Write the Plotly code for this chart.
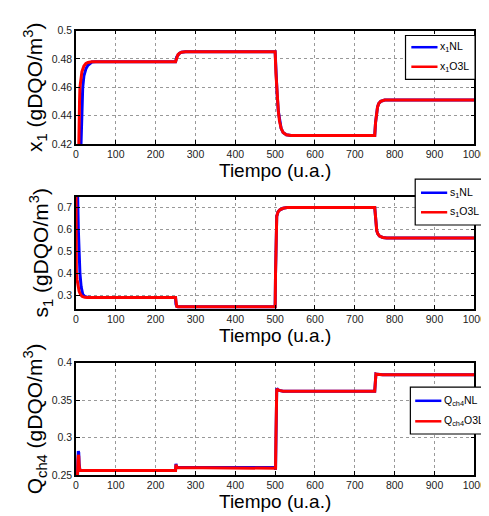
import plotly.graph_objects as go

# ---------------- data ----------------
x1_nl_t = [0, 10, 13, 15, 17, 20, 25, 30, 35, 40, 50, 250, 253, 256, 260, 265, 275, 500, 502, 505, 508, 511, 515, 520, 528, 540, 750, 752, 754, 757, 760, 765, 775, 1000]
x1_nl_v = [0.30, 0.40, 0.43, 0.45, 0.46, 0.468, 0.473, 0.4755, 0.477, 0.4778, 0.478, 0.478, 0.4815, 0.483, 0.484, 0.4848, 0.485, 0.485, 0.47, 0.455, 0.443, 0.436, 0.431, 0.428, 0.4265, 0.426, 0.426, 0.435, 0.442, 0.446, 0.4485, 0.450, 0.451, 0.451]
x1_o3l_t = [0, 5, 7, 9, 10, 12, 15, 20, 25, 30, 40, 250, 253, 256, 260, 265, 275, 500, 502, 505, 508, 511, 515, 520, 528, 540, 750, 752, 754, 757, 760, 765, 775, 1000]
x1_o3l_v = [0.30, 0.40, 0.43, 0.45, 0.46, 0.466, 0.471, 0.475, 0.4768, 0.4775, 0.478, 0.478, 0.4815, 0.483, 0.484, 0.4848, 0.485, 0.485, 0.47, 0.455, 0.443, 0.436, 0.431, 0.428, 0.4265, 0.426, 0.426, 0.435, 0.442, 0.446, 0.4485, 0.450, 0.451, 0.451]

s1_nl_t = [0, 4, 6, 8, 10, 13, 17, 22, 30, 40, 250, 251, 253, 256, 500, 501, 502, 504, 507, 512, 520, 530, 750, 751, 753, 755, 758, 762, 770, 780, 1000]
s1_nl_v = [0.90, 0.78, 0.60, 0.47, 0.40, 0.34, 0.305, 0.295, 0.291, 0.29, 0.29, 0.26, 0.25, 0.248, 0.248, 0.40, 0.60, 0.66, 0.68, 0.69, 0.697, 0.70, 0.70, 0.68, 0.62, 0.595, 0.58, 0.57, 0.564, 0.562, 0.562]
s1_o3l_t = [0, 0.3, 1, 3, 5, 8, 12, 16, 22, 30, 250, 251, 253, 256, 500, 501, 502, 504, 507, 512, 520, 530, 750, 751, 753, 755, 758, 762, 770, 780, 1000]
s1_o3l_v = [0.90, 0.45, 0.40, 0.37, 0.345, 0.318, 0.302, 0.295, 0.291, 0.29, 0.29, 0.26, 0.25, 0.248, 0.248, 0.40, 0.60, 0.66, 0.68, 0.69, 0.697, 0.70, 0.70, 0.68, 0.62, 0.595, 0.58, 0.57, 0.564, 0.562, 0.562]

q_nl_t = [0, 4, 5, 6, 7, 8, 9, 10, 250, 251, 252, 254, 500, 501, 502, 503, 504, 506, 510, 520, 750, 751, 752, 753, 756, 770, 1000]
q_nl_v = [0.25, 0.25, 0.27, 0.282, 0.28, 0.265, 0.258, 0.256, 0.256, 0.265, 0.262, 0.260, 0.260, 0.257, 0.30, 0.35, 0.366, 0.364, 0.363, 0.362, 0.362, 0.37, 0.38, 0.385, 0.3845, 0.384, 0.384]
q_o3l_t = [0, 4, 5, 6, 7, 8, 9, 10, 250, 251, 252, 254, 500, 501, 502, 503, 504, 506, 510, 520, 750, 751, 752, 753, 756, 770, 1000]
q_o3l_v = [0.25, 0.25, 0.268, 0.277, 0.275, 0.263, 0.257, 0.256, 0.256, 0.264, 0.262, 0.260, 0.260, 0.259, 0.30, 0.35, 0.365, 0.364, 0.363, 0.362, 0.362, 0.37, 0.38, 0.385, 0.3845, 0.384, 0.384]

x_ticks = [0, 100, 200, 300, 400, 500, 600, 700, 800, 900, 1000]
y1_ticks = [0.42, 0.44, 0.46, 0.48, 0.5]
y1_labels = ["0.42", "0.44", "0.46", "0.48", "0.5"]
y2_ticks = [0.3, 0.4, 0.5, 0.6, 0.7]
y3_ticks = [0.25, 0.3, 0.35, 0.4]
y3_labels = ["0.25", "0.3", "0.35", "0.4"]

names1 = ["x<sub>1</sub>NL", "x<sub>1</sub>O3L"]
names2 = ["s<sub>1</sub>NL", "s<sub>1</sub>O3L"]
names3 = ["Q<sub>ch4</sub>NL", "Q<sub>ch4</sub>O3L"]
ytitles = ["x<sub>1</sub> (gDQO/m<sup>3</sup>)", "s<sub>1</sub> (gDQO/m<sup>3</sup>)", "Q<sub>ch4</sub> (gDQO/m<sup>3</sup>)"]
xtitle = "Tiempo (u.a.)"

BLUE = "#0000ff"
RED = "#ff0000"
FONT = "Liberation Sans, Arial, sans-serif"

W, H = 489, 516
fig = go.Figure()

series = [
    (x1_nl_t, x1_nl_v, x1_o3l_t, x1_o3l_v, names1),
    (s1_nl_t, s1_nl_v, s1_o3l_t, s1_o3l_v, names2),
    (q_nl_t, q_nl_v, q_o3l_t, q_o3l_v, names3),
]
for i, (tb, vb, tr, vr, nm) in enumerate(series):
    suf = "" if i == 0 else str(i + 1)
    fig.add_trace(go.Scatter(x=tb, y=vb, mode="lines", name=nm[0], line=dict(color=BLUE, width=3),
                             xaxis="x" + suf, yaxis="y" + suf, showlegend=False))
    fig.add_trace(go.Scatter(x=tr, y=vr, mode="lines", name=nm[1], line=dict(color=RED, width=3),
                             xaxis="x" + suf, yaxis="y" + suf, showlegend=False))

# panel pixel boxes (top, bottom)
boxes = [(17, 133), (187, 302), (357, 472)]
xdom = [67 / W, 478 / W]
yranges = [[0.42, 0.5], [0.238, 0.75], [0.25, 0.4]]
yticks = [(y1_ticks, y1_labels), (y2_ticks, [str(v) for v in y2_ticks]), (y3_ticks, y3_labels)]

axis_common = dict(showline=True, linecolor="black", linewidth=1.5, mirror="ticks",
                   ticks="inside", ticklen=4, tickcolor="black",
                   showgrid=True, gridcolor="#999999", griddash="dot", gridwidth=1,
                   zeroline=False, tickfont=dict(family=FONT, size=10.5, color="#222"))

layout = dict(width=W, height=H, margin=dict(l=0, r=0, t=0, b=0),
              paper_bgcolor="white", plot_bgcolor="white", font=dict(family=FONT),
              showlegend=False)
for i in range(3):
    suf = "" if i == 0 else str(i + 1)
    top, bot = boxes[i]
    layout["xaxis" + suf] = dict(domain=xdom, anchor="y" + suf, range=[0, 1000],
                                 tickvals=x_ticks, ticklabeloverflow="allow",
                                 title=dict(text=xtitle, font=dict(family=FONT, size=19, color="black"), standoff=2),
                                 **axis_common)
    layout["yaxis" + suf] = dict(domain=[1 - bot / H, 1 - top / H], anchor="x" + suf, range=yranges[i],
                                 tickvals=yticks[i][0], ticktext=yticks[i][1],
                                 title=dict(text=ytitles[i], font=dict(family=FONT, size=21, color="black"), standoff=3),
                                 **axis_common)

# manual legend boxes (pixel geometry: box l, r, t, b; sample x0, x1; row y's; text x)
legends = [
    (407, 479, 22, 67, 413, 440, [34, 54], 441, names1),
    (417, 489, 169, 216, 423, 450, [183, 203], 451, names2),
    (412, 489, 382, 430, 417, 444, [396, 417], 445, names3),
]
shapes = []
annotations = []
px = lambda x: x / W
py = lambda y: 1 - y / H
for (l, r, t, b, s0, s1, rows, tx, nm) in legends:
    shapes.append(dict(type="rect", xref="paper", yref="paper", x0=px(l), x1=px(r) - 0.0005,
                       y0=py(b), y1=py(t), line=dict(color="black", width=1.2), fillcolor="white", layer="above"))
    for j, (yy, col) in enumerate(zip(rows, [BLUE, RED])):
        shapes.append(dict(type="line", xref="paper", yref="paper", x0=px(s0), x1=px(s1),
                           y0=py(yy), y1=py(yy), line=dict(color=col, width=2.5), layer="above"))
        annotations.append(dict(text=nm[j], xref="paper", yref="paper", x=px(tx), y=py(yy),
                                xanchor="left", yanchor="middle", showarrow=False,
                                font=dict(family=FONT, size=10.5, color="black")))
layout["shapes"] = shapes
layout["annotations"] = annotations

fig.update_layout(**layout)
fig.write_html("out.html")
